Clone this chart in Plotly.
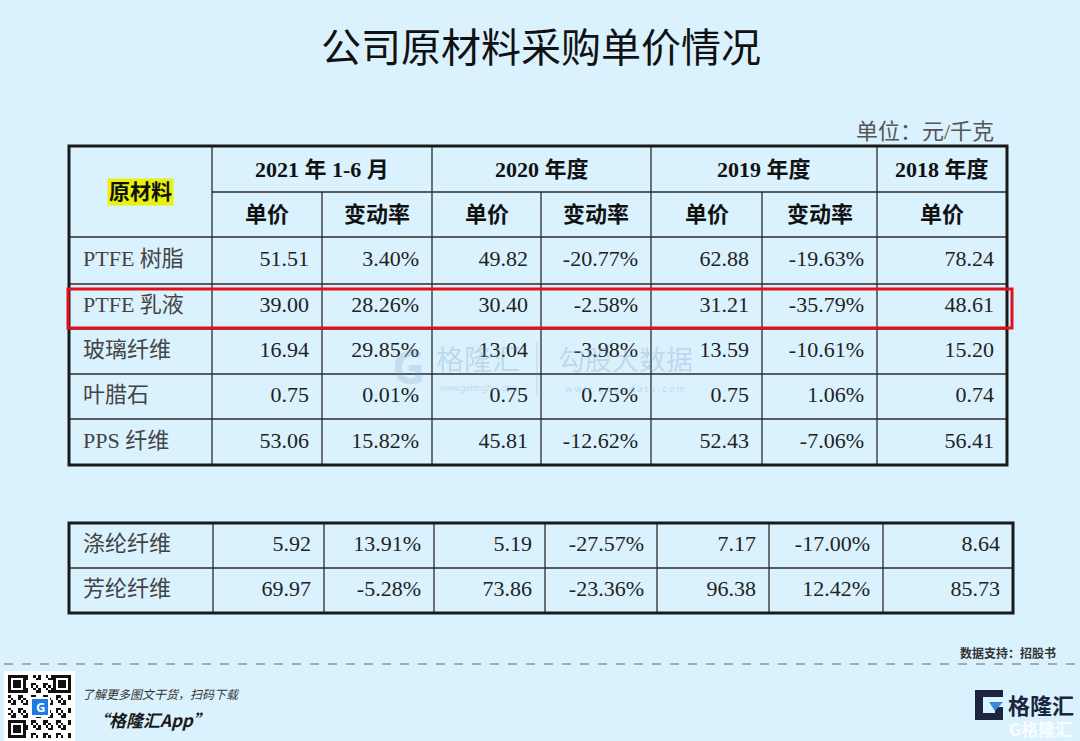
import plotly.graph_objects as go

# ---------------- data ----------------
materials_main = ["PTFE 树脂", "PTFE 乳液", "玻璃纤维", "叶腊石", "PPS 纤维"]
price_2021h1_main = [51.51, 39.00, 16.94, 0.75, 53.06]
chg_2021h1_main = [3.40, 28.26, 29.85, 0.01, 15.82]
price_2020_main = [49.82, 30.40, 13.04, 0.75, 45.81]
chg_2020_main = [-20.77, -2.58, -3.98, 0.75, -12.62]
price_2019_main = [62.88, 31.21, 13.59, 0.75, 52.43]
chg_2019_main = [-19.63, -35.79, -10.61, 1.06, -7.06]
price_2018_main = [78.24, 48.61, 15.20, 0.74, 56.41]

materials_extra = ["涤纶纤维", "芳纶纤维"]
price_2021h1_extra = [5.92, 69.97]
chg_2021h1_extra = [13.91, -5.28]
price_2020_extra = [5.19, 73.86]
chg_2020_extra = [-27.57, -23.36]
price_2019_extra = [7.17, 96.38]
chg_2019_extra = [-17.00, 12.42]
price_2018_extra = [8.64, 85.73]

period_labels = ["2021 年 1-6 月", "2020 年度", "2019 年度", "2018 年度"]
sub_labels = ["单价", "变动率", "单价", "变动率", "单价", "变动率", "单价"]
corner_label = "原材料"
highlight_row = "PTFE 乳液"

title_text = "公司原材料采购单价情况"
unit_text = "单位：元/千克"
source_text = "数据支持：招股书"

# ---------------- layout geometry ----------------
W, H = 1080, 741
BG = "#daf2fd"
t1x = [69, 212, 322, 432, 541, 651, 762, 877, 1007]
t1y = [146, 192, 237, 284, 329, 374, 419, 465]
t2x = [69, 213, 324, 434, 545, 657, 769, 883, 1013]
t2y = [523, 568, 613]
PAD = 13
SERIF = "Liberation Serif, Times New Roman, Noto Sans CJK SC, serif"
LINE = "#2a2a2a"

fig = go.Figure()
shapes = []
annotations = []


def fmt_price(v):
    return f"{v:.2f}"


def fmt_pct(v):
    return f"{v:.2f}%"


def body(xs, ys, materials, cols):
    centers = [(ys[i] + ys[i + 1]) / 2 for i in range(len(ys) - 1)]
    fig.add_trace(go.Scatter(
        x=[xs[0] + 14] * len(materials), y=centers, text=materials,
        mode="text", textposition="middle right",
        textfont=dict(family=SERIF, size=22, color="#444444"),
        hoverinfo="skip", showlegend=False))
    for ci, (vals, f) in enumerate(cols):
        right = xs[ci + 2] - PAD
        fig.add_trace(go.Scatter(
            x=[right] * len(vals), y=centers, text=[f(v) for v in vals],
            mode="text", textposition="middle left",
            textfont=dict(family=SERIF, size=22, color="#222222"),
            hoverinfo="skip", showlegend=False))


def hline(x0, x1, y, w=1.3):
    shapes.append(dict(type="line", x0=x0, x1=x1, y0=y, y1=y,
                       line=dict(color=LINE, width=w), layer="above"))


def vline(x, y0, y1, w=1.3):
    shapes.append(dict(type="line", x0=x, x1=x, y0=y0, y1=y1,
                       line=dict(color=LINE, width=w), layer="above"))


# ---- table 1 ----
cols_main = [(price_2021h1_main, fmt_price), (chg_2021h1_main, fmt_pct),
             (price_2020_main, fmt_price), (chg_2020_main, fmt_pct),
             (price_2019_main, fmt_price), (chg_2019_main, fmt_pct),
             (price_2018_main, fmt_price)]
body(t1x, t1y[2:], materials_main, cols_main)

# header
hdr_font = dict(family=SERIF, size=22, color="#111111")
spans = [(1, 3), (3, 5), (5, 7), (7, 8)]
for lab, (a, b) in zip(period_labels, spans):
    annotations.append(dict(x=(t1x[a] + t1x[b]) / 2, y=(t1y[0] + t1y[1]) / 2,
                            text=f"<b>{lab}</b>", showarrow=False, font=hdr_font))
for i, lab in enumerate(sub_labels):
    annotations.append(dict(x=(t1x[i + 1] + t1x[i + 2]) / 2, y=(t1y[1] + t1y[2]) / 2,
                            text=f"<b>{lab}</b>", showarrow=False, font=hdr_font))
annotations.append(dict(x=(t1x[0] + t1x[1]) / 2, y=(t1y[0] + t1y[2]) / 2,
                        text=f"<b>{corner_label}</b>", showarrow=False,
                        font=dict(family=SERIF, size=21, color="#111111"),
                        bgcolor="#e9f20c", borderpad=1))

# lines table 1
hline(t1x[1], t1x[-1], t1y[1])
for y in t1y[2:-1]:
    hline(t1x[0], t1x[-1], y)
for i, x in enumerate(t1x[1:-1], start=1):
    y0 = t1y[0] if i % 2 == 1 else t1y[1]
    vline(x, y0, t1y[-1])
shapes.append(dict(type="rect", x0=t1x[0], x1=t1x[-1], y0=t1y[0], y1=t1y[-1],
                   line=dict(color="#1a1a1a", width=3), layer="above"))

# red highlight box
ri = materials_main.index(highlight_row)
shapes.append(dict(type="rect", x0=t1x[0] - 1, x1=t1x[-1] + 5,
                   y0=t1y[2 + ri] + 5, y1=t1y[3 + ri] - 1,
                   line=dict(color="#e3101c", width=3), layer="above"))

# ---- table 2 ----
cols_extra = [(price_2021h1_extra, fmt_price), (chg_2021h1_extra, fmt_pct),
              (price_2020_extra, fmt_price), (chg_2020_extra, fmt_pct),
              (price_2019_extra, fmt_price), (chg_2019_extra, fmt_pct),
              (price_2018_extra, fmt_price)]
body(t2x, t2y, materials_extra, cols_extra)
for y in t2y[1:-1]:
    hline(t2x[0], t2x[-1], y)
for x in t2x[1:-1]:
    vline(x, t2y[0], t2y[-1])
shapes.append(dict(type="rect", x0=t2x[0], x1=t2x[-1], y0=t2y[0], y1=t2y[-1],
                   line=dict(color="#1a1a1a", width=3), layer="above"))

# ---- title & unit ----
annotations.append(dict(x=541, y=45, text=title_text, showarrow=False,
                        font=dict(family="Noto Sans CJK SC, sans-serif", size=40, color="#111111")))
annotations.append(dict(x=996, y=131, text=unit_text, showarrow=False, xanchor="right",
                        font=dict(family=SERIF, size=22, color="#555555")))

# ---- watermark ----
wm = "rgba(120,150,200,0.30)"
annotations += [
    dict(x=408, y=366, text="<b>G</b>", showarrow=False,
         font=dict(family="Noto Sans", size=46, color="rgba(120,150,200,0.22)")),
    dict(x=478, y=358, text="格隆汇", showarrow=False,
         font=dict(family="Noto Sans CJK SC", size=28, color=wm)),
    dict(x=478, y=387, text="www.gelonghui.com", showarrow=False,
         font=dict(family="Noto Sans", size=8, color=wm)),
    dict(x=625, y=358, text="勾股大数据", showarrow=False,
         font=dict(family="Noto Sans CJK SC", size=27, color=wm)),
    dict(x=625, y=388, text="w w w . g o g u d a t a . c o m", showarrow=False,
         font=dict(family="Noto Sans", size=9, color=wm)),
]
shapes.append(dict(type="line", x0=537, x1=537, y0=342, y1=396,
                   line=dict(color=wm, width=1)))

# ---- footer ----
annotations.append(dict(x=1058, y=652, text=f"<b>{source_text}</b>", showarrow=False,
                        xanchor="right",
                        font=dict(family="Noto Sans CJK SC", size=12, color="#333333")))
shapes.append(dict(type="line", x0=4, x1=1076, y0=664, y1=664,
                   line=dict(color="#666666", width=1, dash="dash")))
annotations.append(dict(x=80, y=693, text="<i>了解更多图文干货，扫码下载</i>", showarrow=False,
                        xanchor="left",
                        font=dict(family="Noto Sans CJK SC", size=12, color="#333333")))
annotations.append(dict(x=90, y=719, text="<b><i>“格隆汇App”</i></b>", showarrow=False,
                        xanchor="left",
                        font=dict(family="Noto Sans CJK SC", size=17, color="#1a1a1a")))

# QR code decoration
N = 25
qx0, qy0, qs = 8, 675, 63
cell = qs / N
z = []
for i in range(N):
    row = []
    for j in range(N):
        v = 1 if ((i * 7 + j * 13 + i * j) % 5) < 2 else 0
        for (fi, fj) in [(0, 0), (0, N - 7), (N - 7, 0)]:
            if fi <= i < fi + 7 and fj <= j < fj + 7:
                di, dj = i - fi, j - fj
                ring = di in (0, 6) or dj in (0, 6)
                core = 2 <= di <= 4 and 2 <= dj <= 4
                v = 1 if (ring or core) else 0
        row.append(v)
    z.append(row)
shapes.append(dict(type="rect", x0=4, x1=75, y0=671, y1=742,
                   fillcolor="white", line=dict(width=0), layer="below"))
fig.add_trace(go.Heatmap(z=z, x0=qx0 + cell / 2, dx=cell, y0=qy0 + cell / 2, dy=cell,
                         colorscale=[[0, "white"], [1, "#111111"]], showscale=False,
                         hoverinfo="skip", zmin=0, zmax=1))
shapes.append(dict(type="rect", x0=31, x1=49, y0=698, y1=716,
                   fillcolor="#1e7be6", line=dict(color="white", width=2), layer="above"))
annotations.append(dict(x=40, y=707, text="<b>G</b>", showarrow=False,
                        font=dict(family="Noto Sans", size=13, color="white")))

# bottom-right logo
shapes.append(dict(type="path",
                   path="M 975 690 L 1003 690 L 1003 697 L 983 697 L 983 713 L 995 713 "
                        "L 995 707 L 1003 707 L 1003 720 L 975 720 Z",
                   fillcolor="#1b2440", line=dict(width=0), layer="above"))
shapes.append(dict(type="path", path="M 989 702 L 1003 702 L 995 711 Z",
                   fillcolor="#3a86d8", line=dict(width=0), layer="above"))
annotations.append(dict(x=1041, y=704, text="<b>格隆汇</b>", showarrow=False,
                        font=dict(family="Noto Sans CJK SC", size=22, color="#1b2440")))
annotations.append(dict(x=1040, y=728, text="<b>G格隆汇</b>", showarrow=False,
                        font=dict(family="Noto Sans CJK SC", size=17,
                                  color="rgba(255,255,255,0.85)")))

fig.update_layout(
    width=W, height=H, margin=dict(l=0, r=0, t=0, b=0),
    paper_bgcolor=BG, plot_bgcolor=BG,
    xaxis=dict(range=[0, W], visible=False, fixedrange=True),
    yaxis=dict(range=[H, 0], visible=False, fixedrange=True),
    shapes=shapes, annotations=annotations, showlegend=False,
)
fig.write_html("out.html", config={"displayModeBar": False},
               post_script="document.body.style.margin='0';"
                           "document.body.style.overflow='hidden';"
                           "document.body.style.background='" + BG + "';")
